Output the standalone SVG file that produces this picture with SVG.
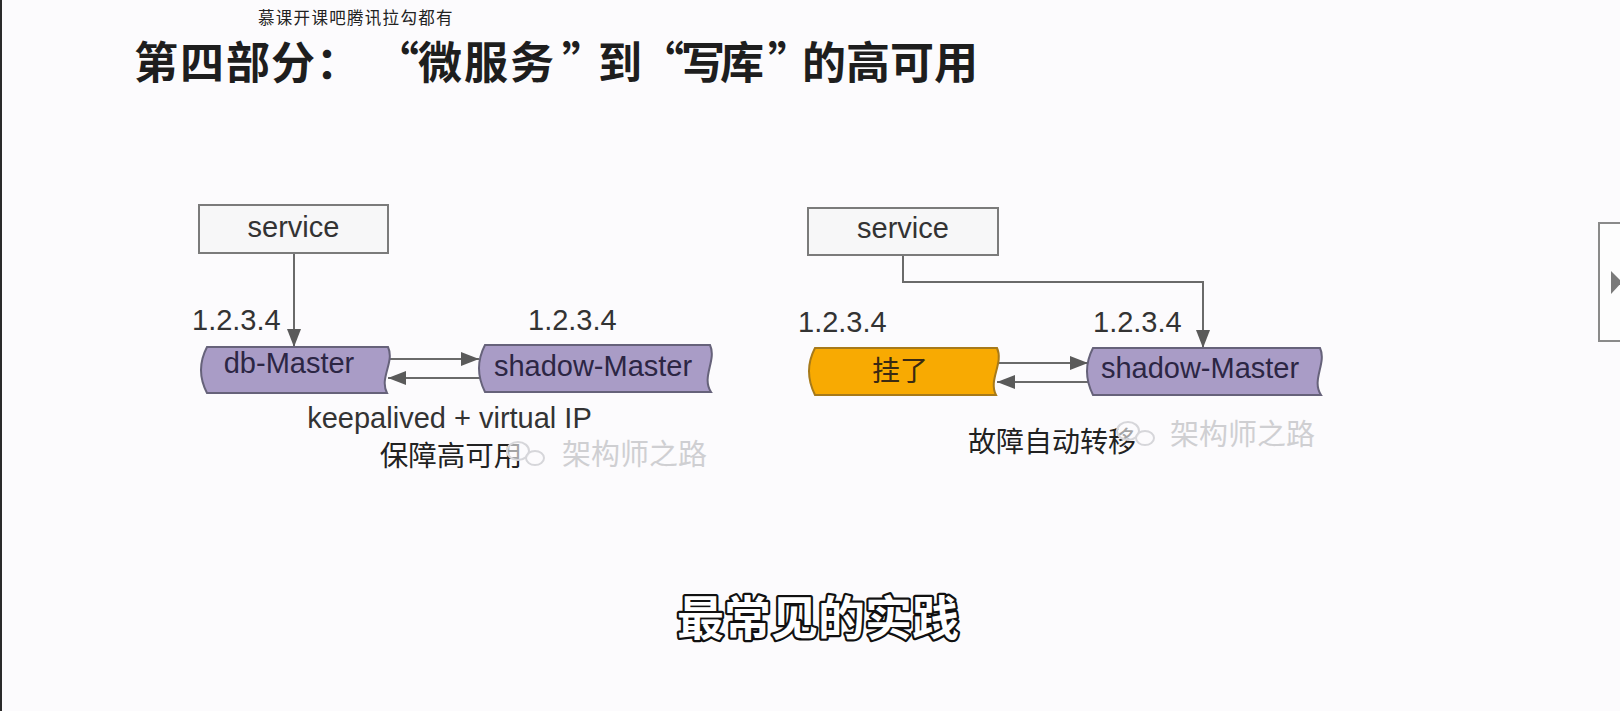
<svg xmlns="http://www.w3.org/2000/svg" width="1620" height="711" viewBox="0 0 1620 711">
  <style>
    .en { font-family: "Liberation Sans", Arial, sans-serif; font-size: 29px; fill: #333; }
    .cn { font-family: "Noto Sans CJK SC", "Noto Sans", sans-serif; }
    .box { fill: #f7f7f8; stroke: #7b7b7b; stroke-width: 2; }
    .db { fill: #a99cc6; stroke: #66627a; stroke-width: 2; }
    .down { fill: #f8aa02; stroke: #a77a1a; stroke-width: 2; }
    .label { font-family: "Liberation Sans", Arial, sans-serif; font-size: 29px; fill: #2c2644; text-anchor: middle; }
    .wire { fill: none; stroke: #6a6a6a; stroke-width: 2; }
    .mark { font-family: "Noto Sans CJK SC", sans-serif; font-size: 29px; fill: #cfcfd2; }
    .logo { fill: #fcfbfd; fill-opacity: 0.6; stroke: #d6d6da; stroke-width: 2; }
  </style>
  <defs>
    <marker id="arrow" viewBox="0 0 18 14" refX="18" refY="7" markerWidth="18" markerHeight="14" markerUnits="userSpaceOnUse" orient="auto">
      <path d="M0,0 L18,7 L0,14 z" fill="#5a5a5a"/>
    </marker>
    <linearGradient id="svcFill" x1="0" y1="0" x2="0" y2="1">
      <stop offset="0" stop-color="#ffffff"/>
      <stop offset="1" stop-color="#efeff1"/>
    </linearGradient>
  </defs>

  <!-- page -->
  <rect x="0" y="0" width="1620" height="711" fill="#fcfbfd"/>
  <rect x="0" y="0" width="2" height="711" fill="#2a2a2a"/>

  <!-- headings -->
  <text class="cn" x="258" y="24" font-size="16.5" letter-spacing="1.3" fill="#222">慕课开课吧腾讯拉勾都有</text>
  <text class="cn" x="134 180 226 271 316 375 418 464 510 562 598 640 681 720 768 802 846 890 934" y="79" font-size="44" font-weight="bold" fill="#1e1e1e">第四部分：“微服务”到“写库”的高可用</text>

  <!-- connectors -->
  <g id="connectors">
    <path class="wire" d="M294,253 L294,347" marker-end="url(#arrow)"/>
    <path class="wire" d="M388,359 L479,359" marker-end="url(#arrow)"/>
    <path class="wire" d="M480,378 L388,378" marker-end="url(#arrow)"/>
    <path class="wire" d="M903,255 L903,282 L1203,282 L1203,348" marker-end="url(#arrow)"/>
    <path class="wire" d="M996,363 L1088,363" marker-end="url(#arrow)"/>
    <path class="wire" d="M1089,382 L997,382" marker-end="url(#arrow)"/>
  </g>

  <!-- left: normal operation -->
  <g id="service-a">
    <rect class="box" x="199" y="205" width="189" height="48" fill="url(#svcFill)"/>
    <text class="en" x="293.5" y="237" text-anchor="middle">service</text>
  </g>
  <g id="db-master">
    <path class="db" d="M207,347 L388,347 C395,362 379,378 387,393 L207,393 Q195,370 207,347 z"/>
    <text class="label" x="289" y="373">db-Master</text>
    <text class="en" x="192" y="330">1.2.3.4</text>
  </g>
  <g id="shadow-master-a">
    <path class="db" d="M485,345 L710,345 C717,360 701,377 711,392 L485,392 Q473,368 485,345 z"/>
    <text class="label" x="593" y="376">shadow-Master</text>
    <text class="en" x="528" y="330">1.2.3.4</text>
  </g>
  <g id="caption-a">
    <text class="en" x="449.5" y="428" text-anchor="middle">keepalived + virtual IP</text>
    <text class="cn" x="451" y="466" font-size="28.5" fill="#222" text-anchor="middle">保障高可用</text>
  </g>

  <!-- right: failover -->
  <g id="service-b">
    <rect class="box" x="808" y="208" width="190" height="47" fill="url(#svcFill)"/>
    <text class="en" x="903" y="238" text-anchor="middle">service</text>
  </g>
  <g id="failed-master">
    <path class="down" d="M815,348 L997,348 C1004,363 988,380 996,395 L815,395 Q803,371 815,348 z"/>
    <text class="cn" x="900" y="381" font-size="28" fill="#3a2a12" text-anchor="middle">挂了</text>
    <text class="en" x="798" y="332">1.2.3.4</text>
  </g>
  <g id="shadow-master-b">
    <path class="db" d="M1093,348 L1320,348 C1327,363 1311,380 1321,395 L1093,395 Q1081,371 1093,348 z"/>
    <text class="label" x="1200" y="378">shadow-Master</text>
    <text class="en" x="1093" y="332">1.2.3.4</text>
  </g>
  <g id="caption-b">
    <text class="cn" x="968" y="452" font-size="28" fill="#222">故障自动转移</text>
  </g>

  <!-- account marks -->
  <g id="mark-a">
    <ellipse class="logo" cx="518" cy="451" rx="11" ry="9"/>
    <ellipse class="logo" cx="535" cy="458" rx="9" ry="7"/>
    <text class="mark" x="562" y="465">架构师之路</text>
  </g>
  <g id="mark-b">
    <ellipse class="logo" cx="1128" cy="431" rx="11" ry="9"/>
    <ellipse class="logo" cx="1145" cy="438" rx="9" ry="7"/>
    <text class="mark" x="1170" y="445">架构师之路</text>
  </g>

  <!-- side pager tab -->
  <rect x="1599" y="223" width="30" height="118" fill="#fdfdfd" stroke="#8a8a8a" stroke-width="2"/>
  <path d="M1611,271 L1622,282 L1611,294 z" fill="#7a7a7a"/>

  <!-- subtitle -->
  <text class="cn" x="818" y="635" font-size="47" font-weight="bold" fill="#ffffff" stroke="#111" stroke-width="4.5" stroke-linejoin="round" paint-order="stroke" text-anchor="middle">最常见的实践</text>
</svg>
